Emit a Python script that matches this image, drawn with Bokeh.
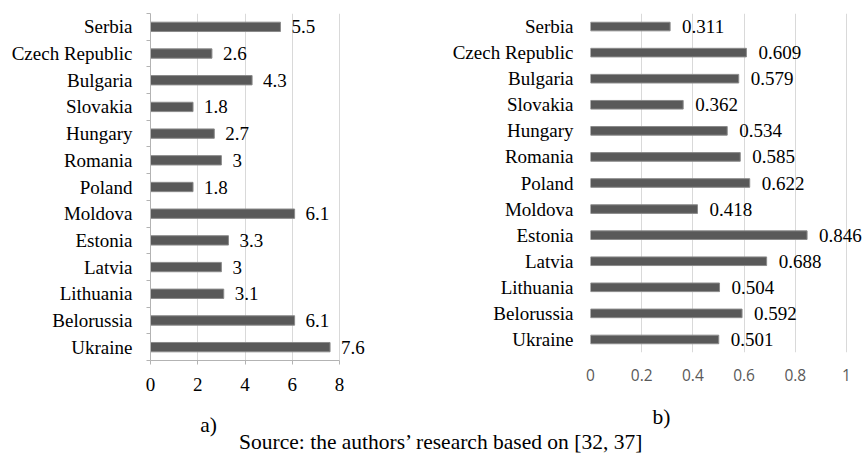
from bokeh.plotting import figure
from bokeh.models import Range1d, FixedTicker, ColumnDataSource, Label
from bokeh.layouts import column, row
from bokeh.core.properties import value
from bokeh.embed import file_html
from bokeh.resources import INLINE

countries = ["Serbia", "Czech Republic", "Bulgaria", "Slovakia", "Hungary", "Romania",
             "Poland", "Moldova", "Estonia", "Latvia", "Lithuania", "Belorussia", "Ukraine"]
values_a = [5.5, 2.6, 4.3, 1.8, 2.7, 3, 1.8, 6.1, 3.3, 3, 3.1, 6.1, 7.6]
labels_a = ["5.5", "2.6", "4.3", "1.8", "2.7", "3", "1.8", "6.1", "3.3", "3", "3.1", "6.1", "7.6"]
values_b = [0.311, 0.609, 0.579, 0.362, 0.534, 0.585, 0.622, 0.418, 0.846, 0.688, 0.504, 0.592, 0.501]
labels_b = ["0.311", "0.609", "0.579", "0.362", "0.534", "0.585", "0.622", "0.418", "0.846",
            "0.688", "0.504", "0.592", "0.501"]
ticks_a = [0, 2, 4, 6, 8]
ticks_b = [0, 0.2, 0.4, 0.6, 0.8, 1]
tick_labels_b = ["0", "0.2", "0.4", "0.6", "0.8", "1"]
caption_a = "a)"
caption_b = "b)"
source_text = "Source: the authors\u2019 research based on [32, 37]"

SERIF = "Liberation Serif"
BAR = "#595959"
GRID = "#d9d9d9"
AXIS = "#b3b3b3"
n = len(countries)
idx = list(range(n))

# ---------- chart a ----------
pA = figure(width=408, height=400, frame_width=236, frame_height=347,
            min_border_left=150, min_border_right=22, min_border_top=13, min_border_bottom=40,
            x_range=Range1d(0, 236 / 23.625), y_range=Range1d(n - 0.5, -0.5),
            output_backend="svg", toolbar_location=None)
pA.outline_line_color = None
srcA = ColumnDataSource(dict(y=idx, v=values_a, lbl=labels_a))
pA.hbar(y="y", left=0, right="v", height=0.35, source=srcA,
        fill_color=BAR, line_color="#8a8a8a", line_width=1)
pA.text(x="v", y="y", text="lbl", source=srcA, x_offset=11, text_align="left",
        text_baseline="middle", text_font=value(SERIF), text_font_size="19px",
        text_color="black")

pA.xaxis.ticker = FixedTicker(ticks=ticks_a)
pA.xaxis.bounds = (ticks_a[0], ticks_a[-1])
pA.xaxis.axis_line_color = AXIS
pA.xaxis.major_tick_line_color = AXIS
pA.xaxis.major_tick_out = 4
pA.xaxis.major_tick_in = 0
pA.xaxis.minor_tick_line_color = None
pA.xaxis.major_label_standoff = 13
pA.xaxis.major_label_text_font = SERIF
pA.xaxis.major_label_text_font_size = "19px"
pA.xaxis.major_label_text_color = "black"

pA.yaxis.ticker = FixedTicker(ticks=idx, minor_ticks=[i - 0.5 for i in range(n + 1)])
pA.yaxis.major_label_overrides = {i: c for i, c in enumerate(countries)}
pA.yaxis.axis_line_color = AXIS
pA.yaxis.major_tick_line_color = None
pA.yaxis.major_tick_out = 0
pA.yaxis.major_tick_in = 0
pA.yaxis.minor_tick_line_color = AXIS
pA.yaxis.minor_tick_out = 4
pA.yaxis.minor_tick_in = 0
pA.yaxis.major_label_standoff = 14
pA.yaxis.major_label_text_font = SERIF
pA.yaxis.major_label_text_font_size = "19px"
pA.yaxis.major_label_text_color = "black"

pA.xgrid.ticker = FixedTicker(ticks=ticks_a[1:])
pA.xgrid.grid_line_color = GRID
pA.ygrid.visible = False

# ---------- chart b ----------
pB = figure(width=454, height=400, frame_width=272, frame_height=339,
            min_border_left=182, min_border_right=0, min_border_top=13, min_border_bottom=48,
            x_range=Range1d(0, 272 / 256), y_range=Range1d(n - 0.5, -0.5),
            output_backend="svg", toolbar_location=None)
pB.outline_line_color = None
srcB = ColumnDataSource(dict(y=idx, v=values_b, lbl=labels_b))
pB.hbar(y="y", left=0, right="v", height=0.33, source=srcB,
        fill_color=BAR, line_color="#8a8a8a", line_width=1)
pB.text(x="v", y="y", text="lbl", source=srcB, x_offset=12, text_align="left",
        text_baseline="middle", text_font=value(SERIF), text_font_size="19px",
        text_color="black")

pB.xaxis.ticker = FixedTicker(ticks=ticks_b)
pB.xaxis.major_label_overrides = {t: s for t, s in zip(ticks_b, tick_labels_b)}
pB.xaxis.axis_line_color = None
pB.xaxis.major_tick_line_color = None
pB.xaxis.minor_tick_line_color = None
pB.xaxis.major_tick_out = 0
pB.xaxis.major_tick_in = 0
pB.xaxis.major_label_standoff = 16
pB.xaxis.major_label_text_font = "Open Sans"
pB.xaxis.major_label_text_font_size = "15.5px"
pB.xaxis.major_label_text_color = "#595959"

pB.yaxis.ticker = FixedTicker(ticks=idx)
pB.yaxis.major_label_overrides = {i: c for i, c in enumerate(countries)}
pB.yaxis.axis_line_color = None
pB.yaxis.major_tick_line_color = None
pB.yaxis.minor_tick_line_color = None
pB.yaxis.major_tick_out = 0
pB.yaxis.major_tick_in = 0
pB.yaxis.major_label_standoff = 17
pB.yaxis.major_label_text_font = SERIF
pB.yaxis.major_label_text_font_size = "19px"
pB.yaxis.major_label_text_color = "black"

pB.xgrid.grid_line_color = GRID
pB.ygrid.visible = False

# ---------- captions and source line ----------
pC = figure(width=862, height=58, x_range=Range1d(0, 1), y_range=Range1d(0, 1),
            min_border=0, output_backend="svg", toolbar_location=None)
pC.outline_line_color = None
pC.axis.visible = False
pC.grid.visible = False
for txt, sx, sy in [(caption_a, 208, 34), (caption_b, 661, 42), (source_text, 441, 17)]:
    pC.add_layout(Label(x=sx, y=sy, x_units="screen", y_units="screen", text=txt,
                        text_align="center", text_baseline="middle", text_font=SERIF,
                        text_font_size="21.5px", text_color="black"))

layout = column(row(pA, pB), pC)
open("out.html", "w").write(file_html(layout, INLINE))
